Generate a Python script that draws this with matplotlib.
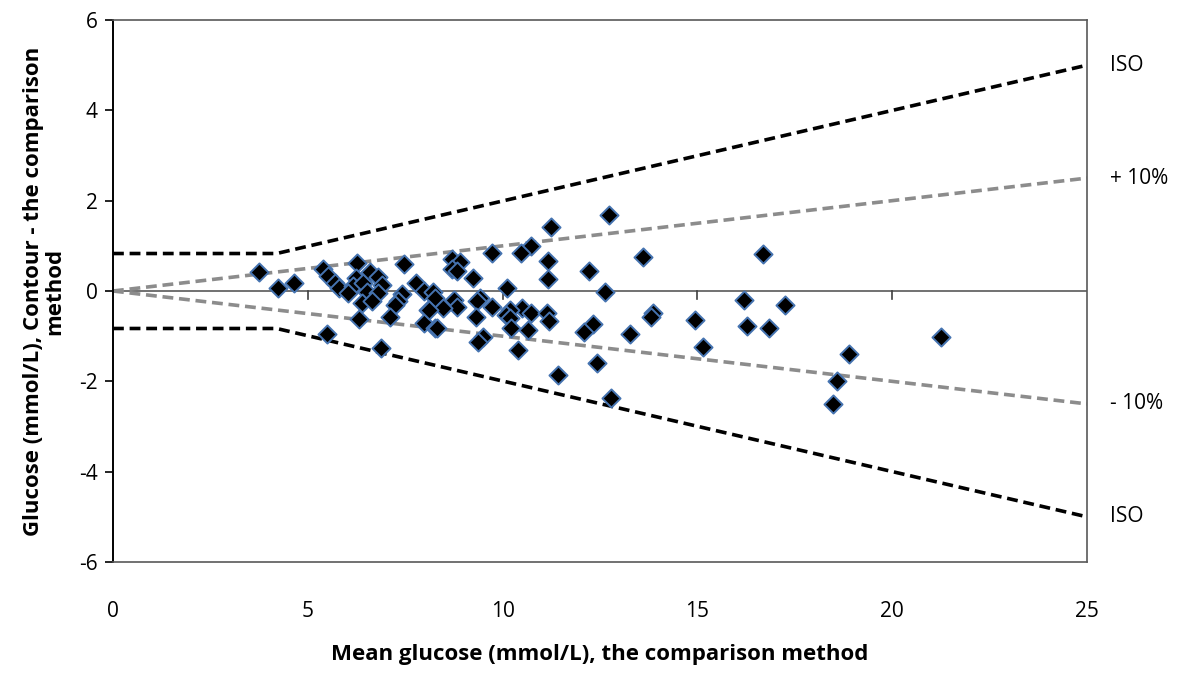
import numpy as np
import matplotlib
matplotlib.use("Agg")
import matplotlib.pyplot as plt

plt.rcParams['font.family'] = ['Open Sans', 'DejaVu Sans']
plt.rcParams['axes.unicode_minus'] = False

# difference vs mean data (mmol/L)
mean_glucose = [3.75, 4.24, 4.65, 5.40, 5.53, 5.70, 5.80, 6.25, 6.23, 6.17, 6.04,
                6.42, 6.60, 6.51, 6.81, 6.90, 6.79, 6.38, 6.64, 7.47, 7.79, 7.97,
                8.22, 8.27, 7.43, 7.32, 7.24, 8.09, 7.11, 6.31, 7.97, 8.27, 5.48,
                6.87, 11.23, 10.72, 10.46, 9.72, 11.17, 11.17, 12.23, 8.69, 8.91,
                8.69, 8.84, 9.23, 10.12, 9.42, 9.35, 8.75, 8.82, 8.48, 8.12, 9.72,
                10.51, 10.72, 10.19, 10.10, 10.19, 11.14, 11.18, 9.32, 8.32, 10.22,
                10.66, 9.49, 9.38, 10.39, 12.33, 12.09, 11.43, 12.43, 12.73, 13.61,
                16.69, 12.63, 16.20, 17.25, 13.87, 13.82, 14.94, 13.27, 16.27, 16.85,
                15.15, 12.77, 21.24, 18.90, 18.58, 18.49]
difference = [0.41, 0.06, 0.17, 0.48, 0.33, 0.18, 0.07, 0.63, 0.28, 0.10, -0.04,
              0.17, 0.41, -0.02, 0.30, 0.13, -0.05, -0.27, -0.22, 0.59, 0.18, 0.01,
              -0.02, -0.16, -0.07, -0.22, -0.30, -0.42, -0.58, -0.63, -0.70, -0.83, -0.96,
              -1.27, 1.41, 1.00, 0.85, 0.85, 0.67, 0.27, 0.45, 0.71, 0.64,
              0.49, 0.45, 0.29, 0.06, -0.16, -0.22, -0.21, -0.35, -0.37, -0.42, -0.35,
              -0.38, -0.49, -0.41, -0.53, -0.60, -0.49, -0.66, -0.57, -0.83, -0.83,
              -0.86, -1.01, -1.14, -1.31, -0.73, -0.91, -1.87, -1.60, 1.68, 0.75,
              0.81, -0.03, -0.21, -0.32, -0.49, -0.58, -0.64, -0.95, -0.77, -0.83,
              -1.23, -2.38, -1.01, -1.39, -1.99, -2.50]

# limit lines
iso_x = [0, 4.2, 25]
iso_upper = [0.83, 0.83, 5.0]
iso_lower = [-0.83, -0.83, -5.0]
pct_x = [0, 25]
pct_upper = [0, 2.5]
pct_lower = [0, -2.5]

fig = plt.figure(figsize=(11.79, 6.73), dpi=100)
ax = fig.add_axes([113/1179, 1 - 562/673, (1087 - 113)/1179, (562 - 20)/673])

ax.plot(iso_x, iso_upper, color='black', ls=(0, (3, 1.6)), lw=2.6)
ax.plot(iso_x, iso_lower, color='black', ls=(0, (3, 1.6)), lw=2.6)
ax.plot(pct_x, pct_upper, color='#8c8c8c', ls=(0, (3, 1.6)), lw=2.6)
ax.plot(pct_x, pct_lower, color='#8c8c8c', ls=(0, (3, 1.6)), lw=2.6)

ax.axhline(0, color='#595959', lw=1.2, zorder=1)
for xt in [5, 10, 15, 20]:
    ax.plot([xt, xt], [0, -0.18], color='#404040', lw=1.2, zorder=1)

ax.scatter(mean_glucose, difference, marker='D', s=85, facecolor='black',
           edgecolor='#4573b0', linewidth=1.4, zorder=3)

ax.set_xlim(0, 25)
ax.set_ylim(-6, 6)
ax.set_xticks([0, 5, 10, 15, 20, 25])
ax.set_yticks([-6, -4, -2, 0, 2, 4, 6])
ax.tick_params(axis='x', length=0, pad=28, labelsize=15)
ax.tick_params(axis='y', direction='out', length=6, width=1.2, labelsize=15, pad=5)
for s in ['top', 'right', 'bottom']:
    ax.spines[s].set_color('#595959')
    ax.spines[s].set_linewidth(1.2)
ax.spines['left'].set_color('black')
ax.spines['left'].set_linewidth(1.4)

ax.set_xlabel('Mean glucose (mmol/L), the comparison method', fontsize=16,
              fontweight='bold', labelpad=16)
ax.set_ylabel('Glucose (mmol/L), Contour - the comparison\nmethod', fontsize=16,
              fontweight='bold', labelpad=10, linespacing=1.0)

for txt, yv in [('ISO', 5.0), ('+ 10%', 2.5), ('- 10%', -2.5), ('ISO', -5.0)]:
    ax.text(25.6, yv, txt, fontsize=15, va='center', ha='left', clip_on=False)

fig.savefig('out.png', dpi=100)
